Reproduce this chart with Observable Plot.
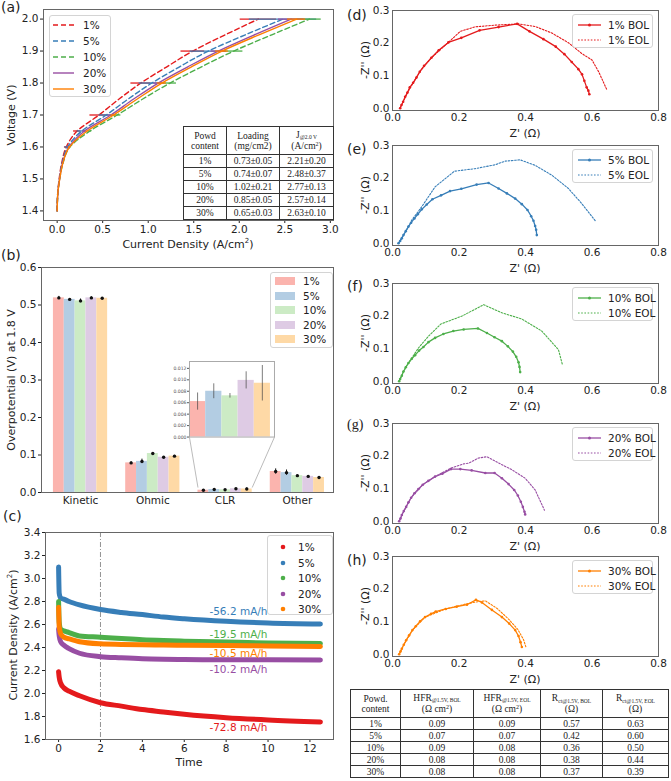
<!DOCTYPE html>
<html>
<head>
<meta charset="utf-8">
<script src="https://cdn.jsdelivr.net/npm/d3@7"></script>
<script src="https://cdn.jsdelivr.net/npm/@observablehq/plot@0.6"></script>
<style>
  body { margin: 0; background: #fff; }
  #fig { position: relative; width: 671px; height: 781px; overflow: hidden; background: #fff;
         font-family: "DejaVu Sans", sans-serif; color: #222; }
  .plab { position: absolute; font-size: 14px; line-height: 14px; white-space: nowrap; }
  .ttl { position: absolute; font-size: 11px; line-height: 12px; white-space: nowrap; transform: translate(-50%, -50%); }
  .ttl.rot { transform: translate(-50%, -50%) rotate(-90deg); }
  .legend { position: absolute; box-sizing: border-box; border: 1px solid #d4d4d4; border-radius: 3px;
            background: rgba(255,255,255,0.85); font-size: 10.5px; }
  .legend .row { position: absolute; left: 0; height: 14px; line-height: 14px; white-space: nowrap; }
  .legend svg { position: absolute; overflow: visible; }
  table.tb { position: absolute; border-collapse: collapse; table-layout: fixed; background: #fff;
             font-family: "Liberation Serif", serif; font-size: 9.5px; color: #222; }
  table.tb td { border: 1px solid #333; text-align: center; padding: 0; line-height: 10px; overflow: hidden; white-space: nowrap; }
  table.tb sub { font-size: 5.5px; vertical-align: baseline; position: relative; top: 1.5px; }
  table.tb sup { font-size: 6px; vertical-align: baseline; position: relative; top: -3px; }
</style>
</head>
<body>
<div id="fig"></div>
<script>
// ---------- shared ----------
const series = ["1%", "5%", "10%", "20%", "30%"];
const lineColors = ["#e41a1c", "#377eb8", "#4daf4a", "#984ea3", "#ff7f00"];
const barColors = ["#fbb4ae", "#b3cde3", "#ccebc5", "#decbe4", "#fed9a6"];

// ---------- (a) polarization curves ----------
const polVoltage = [1.40, 1.45, 1.50, 1.55, 1.60, 1.65, 1.70, 1.75, 1.80, 1.85, 1.90, 1.95, 2.00];
// current density (A/cm2) from 1.40 V to 1.95 V; the 2.0 V point is the table mean
const polCurrent1 = [0, 0.005, 0.022, 0.050, 0.100, 0.22, 0.46, 0.68, 0.92, 1.20, 1.49, 1.84];
const polCurrent5 = [0, 0.005, 0.025, 0.055, 0.115, 0.27, 0.54, 0.78, 1.04, 1.34, 1.66, 2.06];
const polCurrent10 = [0, 0.006, 0.028, 0.065, 0.140, 0.36, 0.66, 0.94, 1.24, 1.58, 1.94, 2.35];
const polCurrent20 = [0, 0.006, 0.027, 0.060, 0.130, 0.30, 0.59, 0.84, 1.11, 1.43, 1.77, 2.16];
const polCurrent30 = [0, 0.006, 0.028, 0.063, 0.135, 0.33, 0.62, 0.88, 1.15, 1.47, 1.81, 2.21];
const errVoltage = [1.60, 1.65, 1.70, 1.80, 1.90];
const errHalf1 = [0.02, 0.04, 0.10, 0.11, 0.13];
const errHalf5 = [0.03, 0.05, 0.08, 0.14, 0.20];
const errHalf10 = [0.01, 0.02, 0.04, 0.07, 0.10];
const errHalf20 = [0.01, 0.02, 0.03, 0.05, 0.08];
const errHalf30 = [0.01, 0.01, 0.03, 0.05, 0.07];
const loadingMean = [0.73, 0.74, 1.02, 0.85, 0.65];
const loadingSd = [0.05, 0.07, 0.21, 0.05, 0.03];
const j2Mean = [2.21, 2.48, 2.77, 2.57, 2.63];
const j2Sd = [0.20, 0.37, 0.13, 0.14, 0.10];

// ---------- (b) overpotential breakdown at 1.8 V ----------
const lossTypes = ["Kinetic", "Ohmic", "CLR", "Other"];
const kinetic = [0.519, 0.515, 0.511, 0.519, 0.518];
const kineticErr = [0.004, 0.002, 0.005, 0.003, 0.002];
const ohmic = [0.079, 0.083, 0.104, 0.094, 0.097];
const ohmicErr = [0.003, 0.006, 0.002, 0.002, 0.002];
const clr = [0.0062, 0.0080, 0.0072, 0.0099, 0.0094];
const clrErr = [0.0015, 0.0013, 0.0004, 0.0015, 0.0031];
const other = [0.056, 0.053, 0.045, 0.043, 0.040];
const otherErr = [0.007, 0.007, 0.001, 0.001, 0.001];

// ---------- (c) durability at constant voltage ----------
const timeH = [0, 0.03, 0.1, 0.25, 0.5, 1, 2, 3, 4, 5, 6, 8, 10, 12.5];
const cd1 = [2.19, 2.14, 2.09, 2.05, 2.02, 1.98, 1.92, 1.89, 1.86, 1.84, 1.82, 1.79, 1.77, 1.753];
const cd5 = [3.10, 2.87, 2.83, 2.82, 2.80, 2.77, 2.73, 2.705, 2.686, 2.665, 2.65, 2.628, 2.614, 2.605];
const cd10 = [2.80, 2.62, 2.56, 2.545, 2.53, 2.50, 2.49, 2.478, 2.467, 2.46, 2.455, 2.447, 2.44, 2.435];
const cd20 = [2.56, 2.50, 2.45, 2.42, 2.39, 2.35, 2.32, 2.31, 2.302, 2.298, 2.296, 2.293, 2.293, 2.292];
const cd30 = [2.75, 2.58, 2.52, 2.49, 2.475, 2.45, 2.432, 2.427, 2.423, 2.421, 2.42, 2.418, 2.413, 2.409];
const decayRate = [-72.8, -56.2, -19.5, -10.2, -10.5];
const markTime = [2];

// ---------- (d)-(h) Nyquist plots [Z', -Z''] ----------
const eisBol1 = [[0.023,0],[0.027,0.010],[0.032,0.020],[0.038,0.035],[0.045,0.048],[0.052,0.064],[0.062,0.078],[0.072,0.094],[0.082,0.112],[0.095,0.130],[0.117,0.155],[0.139,0.178],[0.168,0.202],[0.207,0.216],[0.262,0.239],[0.319,0.249],[0.375,0.259],[0.412,0.236],[0.454,0.212],[0.491,0.189],[0.517,0.166],[0.539,0.142],[0.559,0.120],[0.570,0.104],[0.577,0.084],[0.584,0.064],[0.589,0.054],[0.592,0.043]];
const eisEol1 = [[0.023,0],[0.032,0.020],[0.045,0.048],[0.062,0.078],[0.082,0.112],[0.117,0.155],[0.168,0.202],[0.204,0.236],[0.249,0.250],[0.309,0.255],[0.379,0.259],[0.429,0.251],[0.479,0.231],[0.529,0.201],[0.569,0.168],[0.600,0.148],[0.620,0.112],[0.645,0.056]];
const eisBol5 = [[0.018,0],[0.023,0.007],[0.028,0.015],[0.033,0.025],[0.040,0.037],[0.048,0.051],[0.056,0.063],[0.066,0.076],[0.076,0.089],[0.088,0.104],[0.103,0.119],[0.120,0.135],[0.146,0.147],[0.173,0.160],[0.207,0.167],[0.253,0.180],[0.289,0.185],[0.319,0.168],[0.344,0.153],[0.369,0.137],[0.389,0.120],[0.406,0.102],[0.417,0.083],[0.424,0.069],[0.429,0.053],[0.432,0.041],[0.434,0.025]];
const eisEol5 = [[0.018,0],[0.033,0.025],[0.048,0.051],[0.058,0.071],[0.088,0.112],[0.128,0.173],[0.186,0.221],[0.249,0.229],[0.309,0.241],[0.339,0.252],[0.384,0.256],[0.429,0.239],[0.479,0.209],[0.529,0.168],[0.569,0.122],[0.612,0.066]];
const eisBol10 = [[0.020,0],[0.023,0.007],[0.028,0.017],[0.033,0.030],[0.040,0.043],[0.048,0.056],[0.058,0.069],[0.068,0.080],[0.080,0.094],[0.093,0.105],[0.108,0.120],[0.128,0.133],[0.153,0.145],[0.183,0.154],[0.214,0.159],[0.257,0.162],[0.284,0.148],[0.307,0.135],[0.329,0.123],[0.347,0.107],[0.362,0.091],[0.372,0.075],[0.379,0.058],[0.382,0.044],[0.384,0.028]];
const eisEol10 = [[0.020,0],[0.033,0.030],[0.048,0.056],[0.078,0.102],[0.108,0.138],[0.146,0.176],[0.209,0.200],[0.274,0.235],[0.329,0.210],[0.389,0.191],[0.449,0.154],[0.499,0.097],[0.511,0.051]];
const eisBol20 = [[0.020,0],[0.024,0.008],[0.028,0.019],[0.034,0.031],[0.041,0.044],[0.048,0.058],[0.056,0.072],[0.066,0.086],[0.078,0.099],[0.091,0.112],[0.108,0.124],[0.128,0.137],[0.150,0.146],[0.176,0.160],[0.204,0.160],[0.238,0.156],[0.279,0.148],[0.307,0.148],[0.329,0.132],[0.349,0.114],[0.366,0.096],[0.377,0.079],[0.386,0.060],[0.392,0.044],[0.397,0.029],[0.399,0.021]];
const eisEol20 = [[0.020,0],[0.034,0.031],[0.056,0.072],[0.091,0.112],[0.128,0.137],[0.176,0.163],[0.214,0.176],[0.229,0.178],[0.259,0.194],[0.284,0.198],[0.319,0.179],[0.359,0.158],[0.399,0.132],[0.429,0.096],[0.457,0.034]];
const eisBol30 = [[0.020,0],[0.024,0.008],[0.028,0.017],[0.034,0.029],[0.041,0.043],[0.050,0.058],[0.060,0.074],[0.070,0.086],[0.083,0.101],[0.098,0.114],[0.116,0.124],[0.130,0.131],[0.160,0.139],[0.193,0.146],[0.224,0.152],[0.251,0.167],[0.269,0.159],[0.299,0.136],[0.329,0.114],[0.351,0.094],[0.369,0.074],[0.379,0.056],[0.385,0.037],[0.389,0.022]];
const eisEol30 = [[0.020,0],[0.034,0.029],[0.060,0.074],[0.098,0.114],[0.160,0.139],[0.224,0.155],[0.249,0.160],[0.279,0.164],[0.314,0.141],[0.349,0.108],[0.377,0.076],[0.394,0.045],[0.401,0.023]];
const hfrBol = [0.09, 0.07, 0.09, 0.08, 0.08];
const hfrEol = [0.09, 0.07, 0.08, 0.08, 0.08];
const rctBol = [0.57, 0.42, 0.36, 0.38, 0.37];
const rctEol = [0.63, 0.60, 0.50, 0.44, 0.39];

// ---------- helpers ----------
const fig = document.getElementById("fig");
const frameColor = "#666";
const baseStyle = {fontFamily: "'DejaVu Sans', sans-serif", fontSize: "10.5px", color: "#222",
                   background: "transparent", overflow: "visible"};

function put(el, left, top) {
  el.style.position = "absolute";
  el.style.left = left + "px";
  el.style.top = top + "px";
  fig.appendChild(el);
  return el;
}
function title(html, x, y, rotated) {
  const d = document.createElement("div");
  d.className = "ttl" + (rotated ? " rot" : "");
  d.innerHTML = html;
  d.style.left = x + "px";
  d.style.top = y + "px";
  fig.appendChild(d);
}
function panelLabel(txt, x, y, serif) {
  const d = document.createElement("div");
  d.className = "plab";
  d.textContent = txt;
  if (serif) d.style.fontFamily = "'Liberation Serif', serif";
  d.style.left = x + "px";
  d.style.top = y + "px";
  fig.appendChild(d);
}
// rows: [{label, swatch(svgInner)}]
function legend(left, top, width, height, rows, rowY, swatchX, swatchW, textX) {
  const box = document.createElement("div");
  box.className = "legend";
  box.style.left = left + "px"; box.style.top = top + "px";
  box.style.width = width + "px"; box.style.height = height + "px";
  rows.forEach((r, i) => {
    const y = rowY[i];
    const sw = document.createElementNS("http://www.w3.org/2000/svg", "svg");
    sw.setAttribute("width", swatchW); sw.setAttribute("height", 12);
    sw.style.left = swatchX + "px"; sw.style.top = (y - 6) + "px";
    sw.innerHTML = r.swatch(swatchW);
    box.appendChild(sw);
    const t = document.createElement("div");
    t.className = "row";
    t.style.left = textX + "px"; t.style.top = (y - 7) + "px";
    t.textContent = r.label;
    box.appendChild(t);
  });
  fig.appendChild(box);
}
function table(left, top, colWidths, headerH, rowH, header, rows) {
  const t = document.createElement("table");
  t.className = "tb";
  t.style.left = left + "px"; t.style.top = top + "px";
  t.style.width = d3.sum(colWidths) + "px";
  const cg = document.createElement("colgroup");
  colWidths.forEach(w => { const c = document.createElement("col"); c.style.width = w + "px"; cg.appendChild(c); });
  t.appendChild(cg);
  const hr = document.createElement("tr");
  header.forEach(h => { const td = document.createElement("td"); td.innerHTML = h; td.style.height = (headerH - 1) + "px"; hr.appendChild(td); });
  t.appendChild(hr);
  rows.forEach(r => {
    const tr = document.createElement("tr");
    r.forEach(v => { const td = document.createElement("td"); td.innerHTML = v; td.style.height = (rowH - 1) + "px"; tr.appendChild(td); });
    t.appendChild(tr);
  });
  fig.appendChild(t);
}

// ================= (a) =================
{
  const polCurrent = [polCurrent1, polCurrent5, polCurrent10, polCurrent20, polCurrent30];
  const errHalf = [errHalf1, errHalf5, errHalf10, errHalf20, errHalf30];
  const curves = series.map((s, i) => polVoltage.map((v, k) => ({
    s, v, j: k < polCurrent[i].length ? polCurrent[i][k] : j2Mean[i]
  })));
  const errRows = series.map((s, i) => {
    const rows = errVoltage.map((v, k) => {
      const c = curves[i].find(d => Math.abs(d.v - v) < 1e-9).j;
      return {s, v, lo: c - errHalf[i][k], hi: c + errHalf[i][k]};
    });
    rows.push({s, v: 2.0, lo: j2Mean[i] - j2Sd[i], hi: j2Mean[i] + j2Sd[i]});
    return rows;
  });
  const marks = [Plot.frame({stroke: frameColor})];
  series.forEach((s, i) => {
    marks.push(Plot.line(curves[i], {x: "j", y: "v", stroke: lineColors[i], strokeWidth: 1.4, curve: "monotone-y",
      ...(i < 3 ? {strokeDasharray: "5,3"} : {})}));
    marks.push(Plot.ruleY(errRows[i], {y: "v", x1: "lo", x2: "hi", stroke: lineColors[i], strokeWidth: 1.3}));
  });
  const svg = Plot.plot({
    width: 340, height: 250, marginLeft: 43, marginRight: 7, marginTop: 9, marginBottom: 30,
    style: baseStyle,
    x: {domain: [-0.15, 3.035], ticks: [0, 0.5, 1, 1.5, 2, 2.5, 3], tickFormat: ".1f", label: null, tickSize: 3, tickPadding: 2},
    y: {domain: [1.37, 2.03], ticks: [1.4, 1.5, 1.6, 1.7, 1.8, 1.9, 2.0], tickFormat: ".1f", label: null, tickSize: 3, tickPadding: 2},
    marks
  });
  put(svg, 0, 0);
  title("Voltage (V)", 12, 115, true);
  title("Current Density (A/cm<sup style='font-size:7px'>2</sup>)", 188, 243);
  panelLabel("(a)", 1, 0);
  legend(49, 15, 62, 82, series.map((s, i) => ({
    label: s,
    swatch: w => `<line x1="0" x2="${w}" y1="6" y2="6" stroke="${lineColors[i]}" stroke-width="1.4" ${i < 3 ? 'stroke-dasharray="5,3"' : ""}/>`
  })), [9, 25, 41, 57, 73], 3, 21, 33);
  table(183, 126, [43, 53, 54], 28, 13,
    ["Powd<br>content", "Loading<br>(mg/cm2)", "J<sub>@2.0 V</sub><br>(A/cm<sup>2</sup>)"],
    series.map((s, i) => [s, `${loadingMean[i].toFixed(2)}±${loadingSd[i].toFixed(2)}`, `${j2Mean[i].toFixed(2)}±${j2Sd[i].toFixed(2)}`]));
}

// ================= (b) =================
{
  const groups = [[kinetic, kineticErr], [ohmic, ohmicErr], [clr, clrErr], [other, otherErr]];
  const barW = 0.15;
  const rows = [];
  groups.forEach(([vals, errs], g) => vals.forEach((v, j) => {
    const x1 = g + (j - 2.5) * barW;
    rows.push({s: series[j], x1, x2: x1 + barW, xc: x1 + barW / 2, v, lo: v - errs[j], hi: v + errs[j]});
  }));
  const xDom = [-0.54, 3.5], yDom = [0, 0.6];
  const W = 340, H = 275, mL = 41, mR = 7, mT = 27, mB = 23;
  // inset box in data coordinates of the main axes
  const inset = {x1: 1.507, x2: 2.683, y1: 0.1475, y2: 0.349};
  const clrLeft = 2 - 2.5 * barW, clrRight = 2 + 2.5 * barW, insetTop = 0.0132;
  const svg = Plot.plot({
    width: W, height: H, marginLeft: mL, marginRight: mR, marginTop: mT, marginBottom: mB,
    style: baseStyle,
    x: {domain: xDom, ticks: [0, 1, 2, 3], tickFormat: i => lossTypes[i], label: null, tickSize: 0, tickPadding: 4},
    y: {domain: yDom, ticks: [0, 0.1, 0.2, 0.3, 0.4, 0.5, 0.6], tickFormat: ".1f", label: null, tickSize: 3, tickPadding: 2},
    color: {domain: series, range: barColors},
    marks: [
      Plot.rect(rows, {x1: "x1", x2: "x2", y1: 0, y2: "v", fill: "s"}),
      Plot.ruleX(rows, {x: "xc", y1: "lo", y2: "hi", stroke: "#111", strokeWidth: 1}),
      Plot.dot(rows, {x: "xc", y: "v", r: 1.7, fill: "#111", stroke: "none"}),
      Plot.link([{a: inset.x1, b: inset.y1, c: clrLeft, d: insetTop}, {a: inset.x2, b: inset.y1, c: clrRight, d: insetTop}],
        {x1: "a", y1: "b", x2: "c", y2: "d", stroke: "#aaa", strokeWidth: 0.8}),
      Plot.frame({stroke: frameColor})
    ]
  });
  put(svg, 0, 240);
  // inset axes placed at the inset box
  const sx = d3.scaleLinear(xDom, [mL, W - mR]);
  const sy = d3.scaleLinear(yDom, [H - mB, mT]);
  const iL = 19, iT = 5, iR = 1, iB = 2;
  const iw = sx(inset.x2) - sx(inset.x1), ih = sy(inset.y1) - sy(inset.y2);
  const clrRows = clr.map((v, j) => ({s: series[j], x1: j - 0.5, x2: j + 0.5, xc: j, v, lo: v - clrErr[j], hi: v + clrErr[j]}));
  const isvg = Plot.plot({
    width: iL + iw + iR, height: iT + ih + iB, marginLeft: iL, marginRight: iR, marginTop: iT, marginBottom: iB,
    style: {...baseStyle, fontSize: "4.6px", color: "#555"},
    x: {domain: [-0.5, 4.75], axis: null},
    y: {domain: [0, insetTop], ticks: [0, 0.002, 0.004, 0.006, 0.008, 0.010, 0.012], tickFormat: ".3f", label: null, tickSize: 2, tickPadding: 1},
    color: {domain: series, range: barColors},
    marks: [
      Plot.frame({fill: "white", stroke: "none"}),
      Plot.rect(clrRows, {x1: "x1", x2: "x2", y1: 0, y2: "v", fill: "s"}),
      Plot.ruleX(clrRows, {x: "xc", y1: "lo", y2: "hi", stroke: "#444", strokeWidth: 0.7}),
      Plot.frame({stroke: "#aaa"})
    ]
  });
  put(isvg, sx(inset.x1) - iL, 240 + sy(inset.y2) - iT);
  title("Overpotential (V) at 1.8 V", 12, 380, true);
  panelLabel("(b)", 1, 248);
  legend(270, 272, 63, 76, series.map((s, i) => ({
    label: s, swatch: w => `<rect x="0" y="2" width="${w}" height="8" fill="${barColors[i]}"/>`
  })), [8, 23, 37, 52, 66], 4, 20, 32);
}

// ================= (c) =================
{
  const cd = [cd1, cd5, cd10, cd20, cd30];
  const traces = series.map((s, i) => timeH.map((t, k) => ({t, y: cd[i][k]})));
  const labelOffset = [10, -10, -7.5, 10, 8];
  const labelAt = 8, labelStart = 7.2;
  const marks = [
    Plot.ruleX(markTime, {stroke: "#777", strokeWidth: 0.8, strokeDasharray: "5,2,1,2"})
  ];
  series.forEach((s, i) => marks.push(Plot.line(traces[i], {x: "t", y: "y", stroke: lineColors[i], strokeWidth: 5, curve: "monotone-x", strokeLinecap: "round"})));
  series.forEach((s, i) => {
    const yv = cd[i][timeH.indexOf(labelAt)];
    marks.push(Plot.text([{t: labelStart, y: yv, label: `${decayRate[i].toFixed(1)} mA/h`}],
      {x: "t", y: "y", text: "label", fill: lineColors[i], dy: labelOffset[i], textAnchor: "start", fontSize: 10.5}));
  });
  marks.push(Plot.frame({stroke: frameColor}));
  const svg = Plot.plot({
    width: 340, height: 261, marginLeft: 45, marginRight: 7, marginTop: 12, marginBottom: 42,
    style: baseStyle,
    x: {domain: [-0.625, 13.125], ticks: [0, 2, 4, 6, 8, 10, 12], label: null, tickSize: 3, tickPadding: 2},
    y: {domain: [1.6, 3.4], ticks: [1.6, 1.8, 2.0, 2.2, 2.4, 2.6, 2.8, 3.0, 3.2, 3.4], tickFormat: ".1f", label: null, tickSize: 3, tickPadding: 2},
    marks
  });
  put(svg, 0, 520);
  title("Current Density (A/cm<sup style='font-size:7px'>2</sup>)", 12, 635, true);
  title("Time", 189, 763);
  panelLabel("(c)", 3, 509);
  legend(267, 535, 66, 80, series.map((s, i) => ({
    label: s, swatch: w => `<circle cx="${w / 2}" cy="6" r="2.3" fill="${lineColors[i]}"/>`
  })), [11, 27, 42, 58, 73], 8, 14, 30);
}

// ================= (d)-(h) =================
{
  const bols = [eisBol1, eisBol5, eisBol10, eisBol20, eisBol30];
  const eols = [eisEol1, eisEol5, eisEol10, eisEol20, eisEol30];
  const frameTops = [10, 145, 283, 423, 556];
  const labels = ["(d)", "(e)", "(f)", "(g)", "(h)"];
  const labelTops = [8, 142, 279, 418, 553];
  const mL = 57, mR = 13, mT = 6, mB = 20, fh = 100;
  series.forEach((s, i) => {
    const bol = bols[i].map(([x, y]) => ({x, y}));
    const eol = eols[i].map(([x, y]) => ({x, y}));
    const c = lineColors[i];
    const svg = Plot.plot({
      width: 336, height: mT + fh + mB, marginLeft: mL, marginRight: mR, marginTop: mT, marginBottom: mB,
      style: baseStyle,
      x: {domain: [0, 0.8], ticks: [0, 0.2, 0.4, 0.6, 0.8], tickFormat: ".1f", label: null, tickSize: 0, tickPadding: 3},
      y: {domain: [-0.007, 0.3], ticks: [0, 0.1, 0.2, 0.3], tickFormat: ".1f", label: null, tickSize: 0, tickPadding: 3},
      marks: [
        Plot.line(eol, {x: "x", y: "y", stroke: c, strokeWidth: 1.1, strokeDasharray: "1.6,1.6"}),
        Plot.line(bol, {x: "x", y: "y", stroke: c, strokeWidth: 1.3}),
        Plot.dot(bol, {x: "x", y: "y", r: 1.3, fill: c, stroke: "none"}),
        Plot.frame({stroke: frameColor})
      ]
    });
    put(svg, 335, frameTops[i] - mT);
    title("-Z'' (Ω)", 366, frameTops[i] + 50, true);
    title("Z' (Ω)", 525, frameTops[i] + fh + 24);
    panelLabel(labels[i], 347, labelTops[i], i === 3);
    legend(572, frameTops[i] + 4, 81, 34, [
      {label: `${s} BOL`, swatch: w => `<line x1="0" x2="${w}" y1="6" y2="6" stroke="${c}" stroke-width="1.3"/><circle cx="${w / 2}" cy="6" r="1.5" fill="${c}"/>`},
      {label: `${s} EOL`, swatch: w => `<line x1="0" x2="${w}" y1="6" y2="6" stroke="${c}" stroke-width="1.1" stroke-dasharray="1.6,1.6"/>`}
    ], [10, 25], 5, 23, 35);
  });
  table(350, 689, [50, 73, 67, 62, 66], 28, 12,
    ["Powd.<br>content",
     "HFR<sub>@1.5V, BOL</sub><br>(Ω cm<sup>2</sup>)",
     "HFR<sub>@1.5V, EOL</sub><br>(Ω cm<sup>2</sup>)",
     "R<sub>ct@1.5V, BOL</sub><br>(Ω)",
     "R<sub>ct@1.5V, EOL</sub><br>(Ω)"],
    series.map((s, i) => [s, hfrBol[i].toFixed(2), hfrEol[i].toFixed(2), rctBol[i].toFixed(2), rctEol[i].toFixed(2)]));
}
</script>
</body>
</html>
